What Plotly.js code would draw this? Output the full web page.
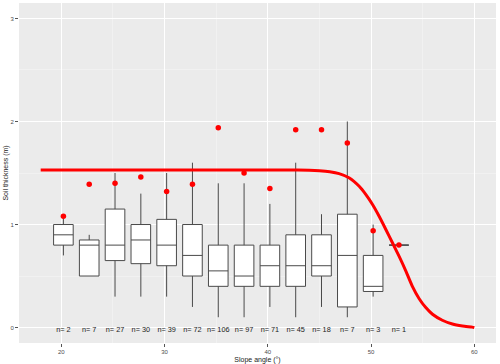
<!DOCTYPE html>
<html>
<head>
<meta charset="utf-8">
<script src="https://cdn.plot.ly/plotly-3.0.1.min.js"></script>
<style>
  body { margin: 0; background: #fff; }
  #chart { width: 500px; height: 364px; }
</style>
</head>
<body>
<div id="chart"></div>
<script>
// Soil thickness by slope angle class (boxplots), max observed per class, and model curve

// slope class centres (degrees)
let slope_mid = [20.2, 22.7, 25.2, 27.7, 30.2, 32.7, 35.2, 37.7, 40.2, 42.7, 45.2, 47.7, 50.2, 52.7];

// box statistics (m)
let lower_w = [0.70, 0.50, 0.30, 0.30, 0.30, 0.20, 0.10, 0.10, 0.20, 0.10, 0.20, 0.10, 0.30, 0.80];
let q1      = [0.80, 0.50, 0.65, 0.62, 0.60, 0.50, 0.40, 0.40, 0.40, 0.40, 0.50, 0.20, 0.35, 0.80];
let med     = [0.90, 0.80, 0.80, 0.85, 0.80, 0.70, 0.55, 0.50, 0.60, 0.60, 0.60, 0.70, 0.40, 0.80];
let q3      = [1.00, 0.85, 1.15, 1.00, 1.05, 1.00, 0.80, 0.80, 0.80, 0.90, 0.90, 1.10, 0.70, 0.80];
let upper_w = [1.06, 0.90, 1.50, 1.30, 1.50, 1.60, 1.40, 1.40, 1.20, 1.60, 1.10, 2.00, 1.00, 0.80];

// red dots
let max_thick = [1.08, 1.39, 1.40, 1.46, 1.32, 1.39, 1.94, 1.50, 1.35, 1.92, 1.92, 1.79, 0.94, 0.80];

// sample sizes
let n_obs = ['n= 2', 'n= 7', 'n= 27', 'n= 30', 'n= 39', 'n= 72', 'n= 106', 'n= 97', 'n= 71', 'n= 45', 'n= 18', 'n= 7', 'n= 3', 'n= 1'];

// model curve, points
let curve_x = [18, 26, 34, 42, 44, 45, 46, 46.9, 47.9, 48.85, 49.5, 50.14, 50.78, 51.43, 52.07, 52.72, 53.37, 54.0, 54.66, 55.3, 55.95, 56.9, 57.88, 58.85, 59.8, 60];
let curve_y = [1.53, 1.53, 1.53, 1.53, 1.527, 1.522, 1.512, 1.494, 1.452, 1.371, 1.29, 1.194, 1.08, 0.952, 0.823, 0.69, 0.548, 0.40, 0.28, 0.194, 0.129, 0.071, 0.035, 0.016, 0.004, 0.0];

var boxes = {
  type: 'box',
  x: slope_mid,
  q1: q1,
  median: med,
  q3: q3,
  lowerfence: lower_w,
  upperfence: upper_w,
  width: 1.9,
  boxpoints: false,
  fillcolor: '#FFFFFF',
  line: {color: '#4a4a4a', width: 1},
  whiskerwidth: 0,
  hoverinfo: 'skip'
};

var curve = {
  type: 'scatter',
  mode: 'lines',
  x: curve_x,
  y: curve_y,
  line: {color: '#FF0000', width: 3, shape: 'spline', smoothing: 0.6},
  hoverinfo: 'skip'
};

var dots = {
  type: 'scatter',
  mode: 'markers',
  x: slope_mid,
  y: max_thick,
  marker: {color: '#FF0000', size: 5.5},
  hoverinfo: 'skip'
};

var labels = {
  type: 'scatter',
  mode: 'text',
  x: slope_mid,
  y: slope_mid.map(function () { return -0.03; }),
  text: n_obs,
  textfont: {family: 'Liberation Sans, Arial, sans-serif', size: 7.3, color: '#222'},
  hoverinfo: 'skip'
};

var layout = {
  width: 500,
  height: 364,
  margin: {l: 19, r: 4, t: 3, b: 21},
  paper_bgcolor: '#FFFFFF',
  plot_bgcolor: '#EBEBEB',
  showlegend: false,
  font: {family: 'Liberation Sans, Arial, sans-serif', color: '#4D4D4D'},
  xaxis: {
    range: [15.9, 62.1],
    tickvals: [20, 30, 40, 50, 60],
    ticks: 'outside', ticklen: 3, tickcolor: '#555', tickwidth: 1,
    tickfont: {size: 6, color: '#4D4D4D'},
    showgrid: true, gridcolor: '#FFFFFF', gridwidth: 1,
    minor: {tickvals: [25, 35, 45, 55], showgrid: true, gridcolor: '#F5F5F5', gridwidth: 0.6, ticks: ''},
    zeroline: false, showline: false,
    title: {text: 'Slope angle (°)', font: {size: 7, color: '#222'}, standoff: 3}
  },
  yaxis: {
    range: [-0.15, 3.15],
    tickvals: [0, 1, 2, 3],
    ticks: 'outside', ticklen: 3, tickcolor: '#555', tickwidth: 1,
    tickfont: {size: 6, color: '#4D4D4D'},
    showgrid: true, gridcolor: '#FFFFFF', gridwidth: 1,
    minor: {tickvals: [0.5, 1.5, 2.5], showgrid: true, gridcolor: '#F5F5F5', gridwidth: 0.6, ticks: ''},
    zeroline: false, showline: false,
    title: {text: 'Soil thickness (m)', font: {size: 7, color: '#222'}, standoff: 1}
  }
};

Plotly.newPlot('chart', [boxes, curve, dots, labels], layout, {displayModeBar: false, staticPlot: true});
</script>
</body>
</html>
